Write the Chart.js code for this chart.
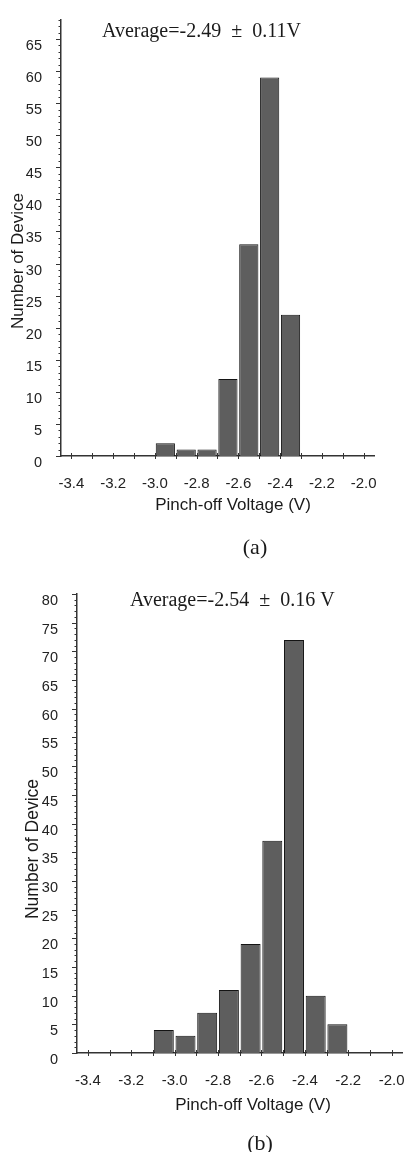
<!DOCTYPE html>
<html>
<head>
<meta charset="utf-8">
<script src="https://cdn.jsdelivr.net/npm/chart.js"></script>
<style>
body { margin: 0; background: #fff; }
canvas { position: absolute; left: 0; }
</style>
</head>
<body>
<canvas id="chartA" width="416" height="570" style="top:0"></canvas>
<canvas id="chartB" width="416" height="582" style="top:570px"></canvas>
<script>
// bin centres (V) and device counts
const binsA = [-2.95, -2.85, -2.75, -2.65, -2.55, -2.45, -2.35];
const countsA = [2, 1, 1, 12, 33, 59, 22];
const binsB = [-3.05, -2.95, -2.85, -2.75, -2.65, -2.55, -2.45, -2.35, -2.25];
const countsB = [4, 3, 7, 11, 19, 37, 72, 10, 5];
const voltMin = -3.4;
const voltMax = -2.0;
const voltStep = 0.1;
const countStep = 5;

const SANS = '"Liberation Sans", Arial, sans-serif';
const SERIF = '"Liberation Serif", "Times New Roman", serif';

// small tick marks: every unit on y (long every 5), every 0.1 V across the x axis
const tickMarks = {
  id: 'tickMarks',
  afterDraw(chart) {
    const ctx = chart.ctx, area = chart.chartArea;
    const x = chart.scales.x, y = chart.scales.y;
    ctx.save();
    ctx.strokeStyle = '#333';
    ctx.lineWidth = 1;
    ctx.beginPath();
    for (let v = y.min; v <= y.max; v++) {
      const py = Math.round(y.getPixelForValue(v)) + 0.5;
      const len = v % 5 === 0 ? 5 : 2.5;
      ctx.moveTo(area.left - len, py);
      ctx.lineTo(area.left, py);
    }
    x.ticks.forEach(t => {
      const px = Math.round(x.getPixelForValue(t.value)) + 0.5;
      ctx.moveTo(px, area.bottom - 3);
      ctx.lineTo(px, area.bottom + 3);
    });
    ctx.stroke();
    ctx.restore();
  }
};

// free-placed texts (titles, axis names, panel letters)
const notes = {
  id: 'notes',
  afterDraw(chart, args, opts) {
    const ctx = chart.ctx;
    (opts.items || []).forEach(it => {
      ctx.save();
      ctx.font = it.font;
      ctx.fillStyle = '#1a1a1a';
      ctx.textAlign = it.align || 'center';
      ctx.textBaseline = it.baseline || 'middle';
      ctx.translate(it.x, it.y);
      if (it.rotate) ctx.rotate(it.rotate);
      ctx.fillText(it.text, 0, 0);
      ctx.restore();
    });
  }
};

function makeChart(id, bins, counts, opt) {
  new Chart(document.getElementById(id), {
    type: 'bar',
    data: {
      datasets: [{
        data: bins.map((b, i) => ({ x: b, y: counts[i] })),
        backgroundColor: '#5e5e5e',
        borderColor: '#141414',
        borderWidth: 1,
        categoryPercentage: 0.92,
        barPercentage: 1,
        grouped: false
      }]
    },
    options: {
      responsive: false,
      animation: false,
      layout: { padding: opt.padding },
      plugins: {
        legend: { display: false },
        tooltip: { enabled: false },
        notes: { items: opt.notes }
      },
      scales: {
        x: {
          type: 'linear',
          min: voltMin,
          max: voltMax,
          grid: { display: false },
          border: { display: true, color: '#333', width: 1.5 },
          ticks: {
            stepSize: voltStep,
            autoSkip: false,
            maxRotation: 0,
            padding: 11,
            color: '#222',
            font: { family: SANS, size: 15 },
            callback: v => Math.round(v * 10) % 2 === 0 ? v.toFixed(1) : ''
          },
          afterFit: s => { s.height = opt.xHeight; }
        },
        y: {
          min: 0,
          max: opt.yMax,
          grid: { display: false },
          border: { display: true, color: '#333', width: 1.5 },
          ticks: {
            stepSize: countStep,
            includeBounds: false,
            padding: 11,
            labelOffset: 7,
            color: '#222',
            font: { family: SANS, size: 14.5 }
          },
          afterFit: s => { s.width = opt.yWidth; }
        }
      }
    },
    plugins: [tickMarks, notes]
  });
}

makeChart('chartA', binsA, countsA, {
  yMax: 68,
  yWidth: 61,
  xHeight: 114,
  padding: { top: 15, right: 42, left: 0, bottom: 0 },
  notes: [
    { text: 'Average=-2.49  \u00b1  0.11V', x: 102, y: 37, font: '20px ' + SERIF, align: 'left', baseline: 'alphabetic' },
    { text: 'Number of Device', x: 18, y: 261, font: '17px ' + SANS, rotate: -Math.PI / 2 },
    { text: 'Pinch-off Voltage (V)', x: 233, y: 505, font: '17px ' + SANS },
    { text: '(a)', x: 255, y: 548, font: '22px ' + SERIF }
  ]
});

makeChart('chartB', binsB, countsB, {
  yMax: 80,
  yWidth: 77,
  xHeight: 99,
  padding: { top: 24, right: 13, left: 0, bottom: 0 },
  notes: [
    { text: 'Average=-2.54  \u00b1  0.16 V', x: 130, y: 36, font: '20px ' + SERIF, align: 'left', baseline: 'alphabetic' },
    { text: 'Number of Device', x: 33, y: 279, font: '17.5px ' + SANS, rotate: -Math.PI / 2 },
    { text: 'Pinch-off Voltage (V)', x: 253, y: 535, font: '17px ' + SANS },
    { text: '(b)', x: 260, y: 574, font: '22px ' + SERIF }
  ]
});
</script>
</body>
</html>
